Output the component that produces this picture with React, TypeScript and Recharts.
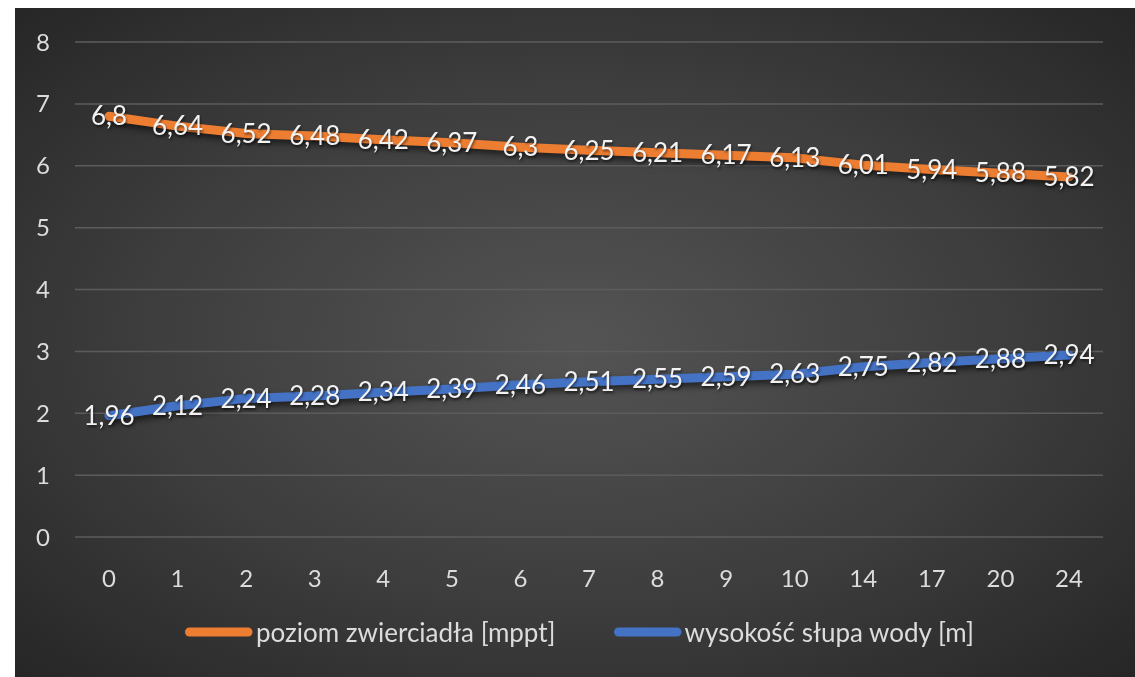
import { LineChart, Line, XAxis, YAxis, CartesianGrid, Legend, LabelList } from "recharts";

const hours = ["0", "1", "2", "3", "4", "5", "6", "7", "8", "9", "10", "14", "17", "20", "24"];
const mirrorLevel = [6.8, 6.64, 6.52, 6.48, 6.42, 6.37, 6.3, 6.25, 6.21, 6.17, 6.13, 6.01, 5.94, 5.88, 5.82];
const waterColumn = [1.96, 2.12, 2.24, 2.28, 2.34, 2.39, 2.46, 2.51, 2.55, 2.59, 2.63, 2.75, 2.82, 2.88, 2.94];
const yTicks = [0, 1, 2, 3, 4, 5, 6, 7, 8];

const SERIES = [
  { key: "mirror", name: "poziom zwierciadła [mppt]", color: "#ED7D31" },
  { key: "water", name: "wysokość słupa wody [m]", color: "#4472C4" },
];

const FONT = "Lato, 'Noto Sans', sans-serif";

const chartData = hours.map((h, i) => ({
  hour: h,
  mirror: mirrorLevel[i],
  water: waterColumn[i],
}));

// Polish decimal comma
const fmt = (v: any) => String(v).replace(".", ",");

function ChartLegend() {
  return (
    <div style={{ display: "flex", alignItems: "center", paddingLeft: 170, paddingTop: 1, fontFamily: FONT }}>
      {SERIES.map((s, i) => (
        <div key={s.key} style={{ display: "flex", alignItems: "center", marginRight: i === 0 ? 58 : 0 }}>
          <svg width={68} height={12} style={{ display: "block" }}>
            <line x1={4.5} y1={6} x2={63} y2={6} stroke={s.color} strokeWidth={9} strokeLinecap="round" />
          </svg>
          <span style={{ color: "#dcdcdc", fontSize: 26, lineHeight: "28px", marginLeft: 3 }}>{s.name}</span>
        </div>
      ))}
    </div>
  );
}

export default function App() {
  return (
    <div
      style={{
        position: "fixed",
        left: 15,
        top: 8,
        width: 1120,
        height: 669,
        background: "radial-gradient(ellipse at 50% 50%, #545454 0%, #3d3d3d 55%, #262626 100%)",
      }}
    >
      <style>{`
        .recharts-line-curve { filter: drop-shadow(2px 4px 3px rgba(0,0,0,0.55)); }
        .recharts-label-list text { filter: drop-shadow(1px 2px 1px rgba(0,0,0,0.5)); }
      `}</style>
      <LineChart width={1120} height={669} data={chartData} margin={{ top: 34, right: 32, left: 0, bottom: 0 }}>
        <CartesianGrid vertical={false} stroke="#5c5c5c" strokeWidth={1.5} />
        <XAxis
          dataKey="hour"
          axisLine={false}
          tickLine={false}
          padding={{ left: 34, right: 34 }}
          height={80}
          tickMargin={27}
          tick={{ fill: "#dcdcdc", fontSize: 24, fontFamily: FONT }}
          interval={0}
        />
        <YAxis
          domain={[0, 8]}
          ticks={yTicks}
          width={60}
          axisLine={false}
          tickLine={false}
          tick={{ fill: "#dcdcdc", fontSize: 24, fontFamily: FONT, dx: -17 }}
        />
        <Legend verticalAlign="bottom" height={60} content={() => <ChartLegend />} />
        {SERIES.map((s) => (
          <Line
            key={s.key}
            type="linear"
            dataKey={s.key}
            name={s.name}
            stroke={s.color}
            strokeWidth={9}
            strokeLinecap="round"
            dot={false}
            activeDot={false}
            isAnimationActive={false}
          >
            <LabelList
              dataKey={s.key}
              position="center"
              formatter={fmt}
              fill="#f2f2f2"
              fontSize={26}
              fontFamily={FONT}
            />
          </Line>
        ))}
      </LineChart>
    </div>
  );
}
